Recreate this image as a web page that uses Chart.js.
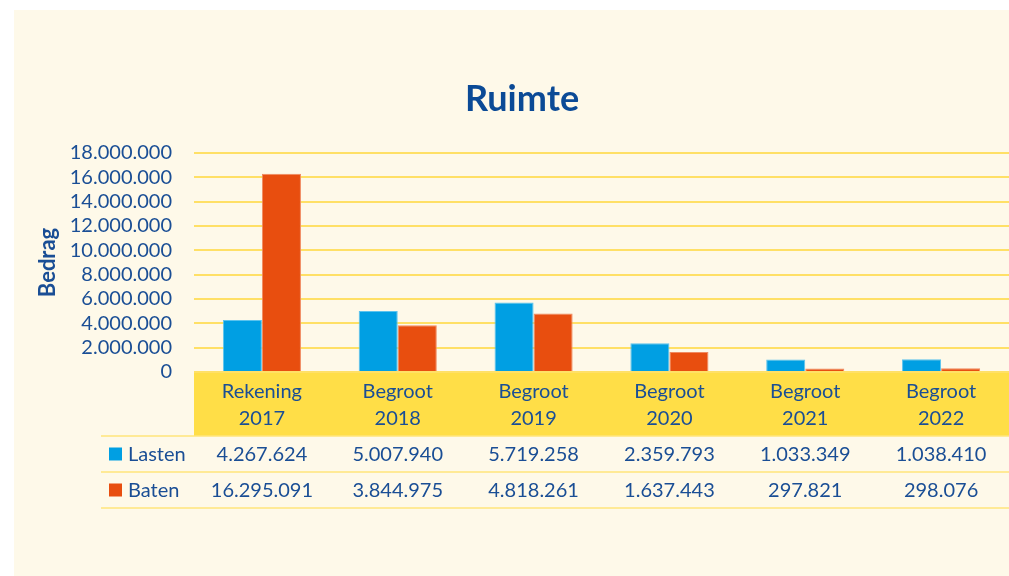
<!DOCTYPE html>
<html>
<head>
<meta charset="utf-8">
<script src="https://cdn.jsdelivr.net/npm/chart.js@4"></script>
<style>
  html, body { margin: 0; padding: 0; background: #ffffff; }
  #bg { position: absolute; left: 14px; top: 10px; width: 995px; height: 566px; background: #FEF9E9; }
  #wrap { position: absolute; left: 0; top: 0; width: 1009px; height: 576px; }
</style>
</head>
<body>
<div id="bg"></div>
<div id="wrap"><canvas id="c" width="1009" height="576"></canvas></div>
<script>
const categories = [["Rekening", "2017"], ["Begroot", "2018"], ["Begroot", "2019"], ["Begroot", "2020"], ["Begroot", "2021"], ["Begroot", "2022"]];
const lasten = [4267624, 5007940, 5719258, 2359793, 1033349, 1038410];
const baten = [16295091, 3844975, 4818261, 1637443, 297821, 298076];
const seriesNames = ["Lasten", "Baten"];
const yTicks = [0, 2000000, 4000000, 6000000, 8000000, 10000000, 12000000, 14000000, 16000000, 18000000];

const TEXT = '#1A4E95';
const FONT = 'Lato, "Open Sans", sans-serif';
const fmt = v => String(v).replace(/\B(?=(\d{3})+(?!\d))/g, '.');

const tablePlugin = {
  id: 'tablePlugin',
  beforeDraw(chart) {
    const { ctx, chartArea } = chart;
    ctx.save();
    ctx.fillStyle = '#FFDE47';
    ctx.fillRect(chartArea.left, chartArea.bottom, chartArea.right - chartArea.left, 64);
    ctx.restore();
  },
  afterDraw(chart) {
    const { ctx, chartArea } = chart;
    const x = chart.scales.x;
    const top = chartArea.bottom + 64;
    const rowH = 36;
    ctx.save();
    ctx.strokeStyle = '#FFE47A';
    ctx.lineWidth = 1.5;
    for (let i = 0; i <= 2; i++) {
      const y = top + i * rowH;
      ctx.beginPath();
      ctx.moveTo(101, y);
      ctx.lineTo(chartArea.right, y);
      ctx.stroke();
    }
    ctx.font = '20px ' + FONT;
    ctx.textBaseline = 'middle';
    chart.data.datasets.forEach((ds, r) => {
      const cy = top + rowH * r + rowH / 2;
      ctx.fillStyle = ds.backgroundColor;
      ctx.fillRect(109, cy - 6.5, 13, 13);
      ctx.fillStyle = TEXT;
      ctx.textAlign = 'left';
      ctx.fillText(ds.label, 128, cy + 1);
      ctx.textAlign = 'center';
      ds.data.forEach((v, i) => {
        ctx.fillText(fmt(v), x.getPixelForValue(i), cy + 1);
      });
    });
    ctx.restore();
  }
};

new Chart(document.getElementById('c'), {
  type: 'bar',
  data: {
    labels: categories,
    datasets: [
      { label: seriesNames[0], data: lasten, backgroundColor: '#009FE3', borderColor: '#5BC3EE', borderWidth: 1 },
      { label: seriesNames[1], data: baten, backgroundColor: '#E84E0F', borderColor: '#F08A60', borderWidth: 1 }
    ]
  },
  options: {
    responsive: false,
    animation: false,
    layout: { padding: { top: 78, left: 35, right: 0, bottom: 140 } },
    datasets: { bar: { categoryPercentage: 0.575, barPercentage: 1 } },
    plugins: {
      legend: { display: false },
      tooltip: { enabled: false },
      title: {
        display: true,
        text: 'Ruimte',
        color: '#0B4A96',
        font: { family: FONT, size: 36, weight: 'bold', lineHeight: 1.2 },
        padding: { top: 0, bottom: 31.8 }
      }
    },
    scales: {
      x: {
        grid: { display: false, drawTicks: false },
        border: { display: false },
        ticks: { color: TEXT, font: { family: FONT, size: 20, lineHeight: 1.35 }, padding: 6, maxRotation: 0, autoSkip: false },
        afterFit(s) { s.height = 64; }
      },
      y: {
        min: 0, max: 18000000,
        afterBuildTicks(s) { s.ticks = yTicks.map(v => ({ value: v })); },
        grid: { color: '#FFE066', lineWidth: 2, drawTicks: false },
        border: { display: false },
        ticks: { color: TEXT, font: { family: FONT, size: 20 }, padding: 22, autoSkip: false, callback: v => fmt(v) },
        title: { display: true, text: 'Bedrag', color: TEXT, font: { family: FONT, size: 22, weight: 'bold', lineHeight: 1.2 }, padding: 0 },
        afterFit(s) { s.width = 159; }
      }
    }
  },
  plugins: [tablePlugin]
});
</script>
</body>
</html>
